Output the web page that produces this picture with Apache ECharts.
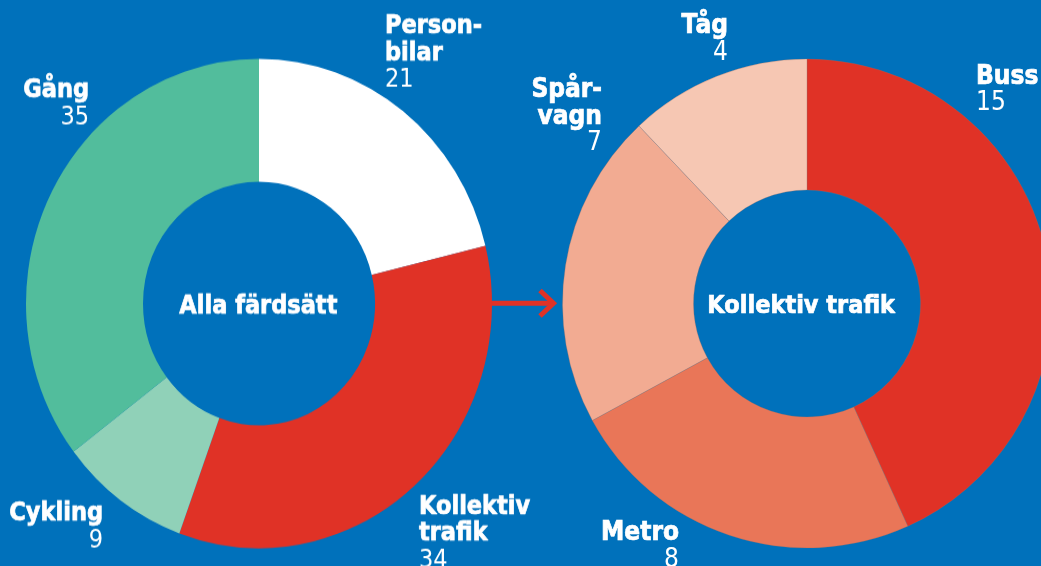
<!DOCTYPE html>
<html>
<head>
<meta charset="utf-8">
<script src="https://cdn.jsdelivr.net/npm/echarts@6/dist/echarts.min.js"></script>
<style>
  html, body { margin: 0; padding: 0; }
  #wrap { position: relative; width: 1041px; height: 566px; background: #0071bb; overflow: hidden; }
  #leftChart, #rightChart { position: absolute; left: 0; top: 0; width: 1041px; height: 566px; }
  /* vänstra ringen är lite utdragen på höjden i originalet */
  #leftChart { transform: scaleY(1.05); transform-origin: 0 303.5px; }
</style>
</head>
<body>
<div id="wrap">
  <div id="leftChart"></div>
  <div id="rightChart"></div>
</div>
<script>
// Alla färdsätt
var allaNamn = ["Person-\nbilar", "Kollektiv\ntrafik", "Cykling", "Gång"];
var allaVarden = [21, 34, 9, 35];
var allaFarger = ["#ffffff", "#e03226", "#90d1b8", "#52bd9c"];

// Kollektiv trafik (andelar, visas avrundade)
var kollNamn = ["Buss", "Metro", "Spår-\nvagn", "Tåg"];
var kollVarden = [14.7, 8.1, 7.1, 4.1];
var kollFarger = ["#e03226", "#e97658", "#f2ab92", "#f6c7b3"];

var FONT = '"Liberation Sans Narrow", "DejaVu Sans Condensed", "Roboto", sans-serif';
var SCALE = 1.05, ORIGIN = 303.5;
function ly (y) { return ORIGIN + (y - ORIGIN) / SCALE; }

// etikettlägen [x, topp, align]
var allaPos = [[385, 13, "left"], [419, 493.5, "left"], [103, 500.5, "right"], [89, 77, "right"]];
var kollPos = [[976, 63.5, "left"], [679, 520, "right"], [602, 77, "right"], [728, 13, "right"]];

function makeData (names, values, colors) {
  return values.map(function (v, i) {
    return { name: names[i], value: v, itemStyle: { color: colors[i] } };
  });
}

function rich (fs, lh) {
  return {
    n: { fontFamily: FONT, fontWeight: "bold", fontSize: fs, lineHeight: lh, color: "#fff",
         textBorderColor: "#fff", textBorderWidth: 0.7 },
    v: { fontFamily: FONT, fontWeight: "normal", fontSize: fs, lineHeight: lh, color: "#fff" }
  };
}

var left = echarts.init(document.getElementById("leftChart"));
left.setOption({
  animation: false,
  graphic: [{
    type: "text", left: 259 - 80, top: ly(307.5) - 14,
    style: { text: "Alla färdsätt", x: 80, fill: "#fff", font: "bold 25px " + FONT, align: "center", width: 160,
             stroke: "#fff", lineWidth: 0.7 }
  }],
  series: [{
    type: "pie",
    silent: true,
    center: [259, 303.5],
    radius: [116, 233],
    startAngle: 90,
    clockwise: true,
    avoidLabelOverlap: false,
    label: {
      show: true,
      position: "outside",
      formatter: function (p) { return "{n|" + p.name + "}\n{v|" + Math.round(p.value) + "}"; },
      rich: rich(25, 25.5)
    },
    labelLine: { show: false },
    labelLayout: function (p) {
      var pos = allaPos[p.dataIndex];
      return { x: pos[0], y: ly(pos[1]), align: pos[2], verticalAlign: "top" };
    },
    data: makeData(allaNamn, allaVarden, allaFarger)
  }]
});

var right = echarts.init(document.getElementById("rightChart"));
right.setOption({
  animation: false,
  graphic: [
    {
      type: "text", left: 807 - 100, top: 293.5,
      style: { text: "Kollektiv trafik", x: 100, fill: "#fff", font: "bold 25px " + FONT, align: "center", width: 200,
               stroke: "#fff", lineWidth: 0.7 }
    },
    {
      type: "polyline",
      shape: { points: [[491, 303.3], [553, 303.3]] },
      style: { stroke: "#e03226", lineWidth: 5, fill: null }
    },
    {
      type: "polyline",
      shape: { points: [[540, 290.5], [553.5, 303.3], [540, 316]] },
      style: { stroke: "#e03226", lineWidth: 5, fill: null, lineJoin: "miter" }
    }
  ],
  series: [{
    type: "pie",
    silent: true,
    center: [807, 303.5],
    radius: [113.5, 244.5],
    startAngle: 90,
    clockwise: true,
    avoidLabelOverlap: false,
    itemStyle: { borderColor: "rgba(150,110,100,0.5)", borderWidth: 0.6 },
    label: {
      show: true,
      position: "outside",
      formatter: function (p) { return "{n|" + p.name + "}\n{v|" + Math.round(p.value) + "}"; },
      rich: rich(26, 26.5)
    },
    labelLine: { show: false },
    labelLayout: function (p) {
      var pos = kollPos[p.dataIndex];
      return { x: pos[0], y: pos[1], align: pos[2], verticalAlign: "top" };
    },
    data: makeData(kollNamn, kollVarden, kollFarger)
  }]
});
</script>
</body>
</html>
